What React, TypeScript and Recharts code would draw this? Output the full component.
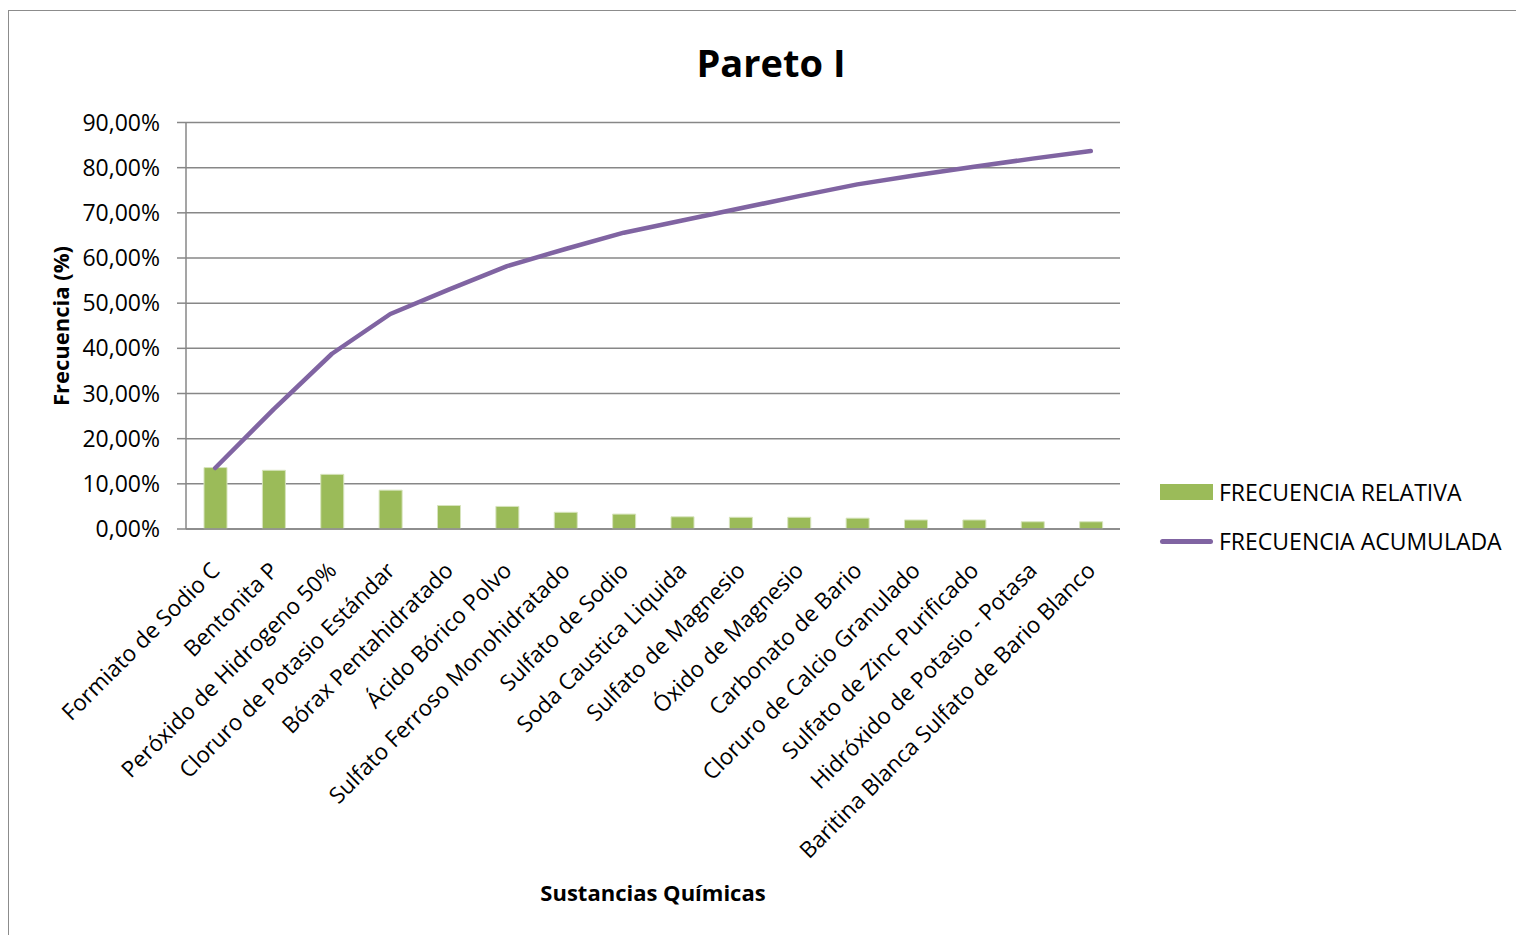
import { Bar, CartesianGrid, ComposedChart, Line, XAxis, YAxis } from 'recharts';

const categories = [
  'Formiato de Sodio C',
  'Bentonita P',
  'Peróxido de Hidrogeno 50%',
  'Cloruro de Potasio Estándar',
  'Bórax Pentahidratado',
  'Ácido Bórico Polvo',
  'Sulfato Ferroso Monohidratado',
  'Sulfato de Sodio',
  'Soda Caustica Liquida',
  'Sulfato de Magnesio',
  'Óxido de Magnesio',
  'Carbonato de Bario',
  'Cloruro de Calcio Granulado',
  'Sulfato de Zinc Purificado',
  'Hidróxido de Potasio - Potasa',
  'Baritina Blanca Sulfato de Bario Blanco',
];

const relativa = [13.6, 13.0, 12.1, 8.6, 5.2, 5.0, 3.7, 3.3, 2.7, 2.6, 2.6, 2.4, 2.0, 2.0, 1.6, 1.6];
const acumulada = [13.5, 26.5, 38.8, 47.6, 53.0, 58.2, 62.0, 65.6, 68.3, 71.0, 73.7, 76.3, 78.3, 80.2, 82.0, 83.7];

const yTicks = [0, 10, 20, 30, 40, 50, 60, 70, 80, 90];

const data = categories.map((name, i) => ({
  name,
  relativa: relativa[i],
  acumulada: acumulada[i],
}));

const FONT = '"Open Sans", sans-serif';
const GRID = '#878787';
const GREEN = '#9BBB59';
const PURPLE = '#8064A2';

const fmtPct = (v: number) => v.toFixed(2).replace('.', ',') + '%';

// category names run diagonally, ending just under each bar
function CategoryTick({ x, y, payload }: any) {
  const ax = x - 6;
  const ay = y + 23;
  return (
    <text
      x={ax}
      y={ay}
      transform={`rotate(-45 ${ax} ${ay})`}
      textAnchor="end"
      dy="0.75em"
      fontSize={22.5}
      fontFamily={FONT}
      fill="#000"
    >
      {payload.value}
    </text>
  );
}

export default function App() {
  return (
    <div style={{ position: 'absolute', left: 0, top: 0, width: 1516, height: 935, overflow: 'hidden', background: '#fff', fontFamily: FONT }}>
      <div style={{ position: 'absolute', left: 8, top: 10, width: 1600, height: 1000, border: '1px solid #8c8c8c' }} />
      <div style={{ position: 'absolute', left: 0, width: 1542, top: 36, textAlign: 'center', fontSize: 38, fontWeight: 700 }}>
        Pareto I
      </div>
      <div
        style={{
          position: 'absolute',
          left: 60,
          top: 326,
          transform: 'translate(-50%, -50%) rotate(-90deg)',
          fontSize: 22,
          fontWeight: 700,
          whiteSpace: 'nowrap',
        }}
      >
        Frecuencia (%)
      </div>
      <div style={{ position: 'absolute', left: 653, top: 892, transform: 'translate(-50%, -50%)', fontSize: 22, fontWeight: 700, whiteSpace: 'nowrap' }}>
        Sustancias Químicas
      </div>

      <ComposedChart
        width={1516}
        height={935}
        data={data}
        margin={{ top: 122.5, right: 396, bottom: 106, left: 66 }}
        style={{ position: 'absolute', left: 0, top: 0 }}
      >
        <CartesianGrid vertical={false} stroke={GRID} strokeWidth={1.5} />
        <XAxis
          dataKey="name"
          interval={0}
          height={300}
          tick={<CategoryTick />}
          tickLine={false}
          axisLine={{ stroke: GRID, strokeWidth: 1.5 }}
        />
        <YAxis
          width={120}
          domain={[0, 90]}
          ticks={yTicks}
          tickFormatter={fmtPct}
          tickSize={9}
          tickMargin={17}
          tick={{ fill: '#000', fontSize: 23, fontFamily: FONT }}
          tickLine={{ stroke: GRID, strokeWidth: 1.5 }}
          axisLine={{ stroke: GRID, strokeWidth: 1.5 }}
        />
        <Bar dataKey="relativa" fill={GREEN} stroke="#d7e4bd" strokeWidth={1} barSize={23} isAnimationActive={false} />
        <Line
          dataKey="acumulada"
          stroke={PURPLE}
          strokeWidth={4.5}
          strokeLinecap="round"
          strokeLinejoin="round"
          dot={false}
          activeDot={false}
          isAnimationActive={false}
        />
      </ComposedChart>

      <div style={{ position: 'absolute', left: 1160, top: 484, width: 53, height: 16, background: GREEN }} />
      <div style={{ position: 'absolute', left: 1219, top: 492, transform: 'translateY(-50%)', fontSize: 23, whiteSpace: 'nowrap' }}>
        FRECUENCIA RELATIVA
      </div>
      <div style={{ position: 'absolute', left: 1160, top: 539, width: 53, height: 4.5, borderRadius: 3, background: PURPLE }} />
      <div style={{ position: 'absolute', left: 1219, top: 541, transform: 'translateY(-50%)', fontSize: 23, whiteSpace: 'nowrap' }}>
        FRECUENCIA ACUMULADA
      </div>
    </div>
  );
}
